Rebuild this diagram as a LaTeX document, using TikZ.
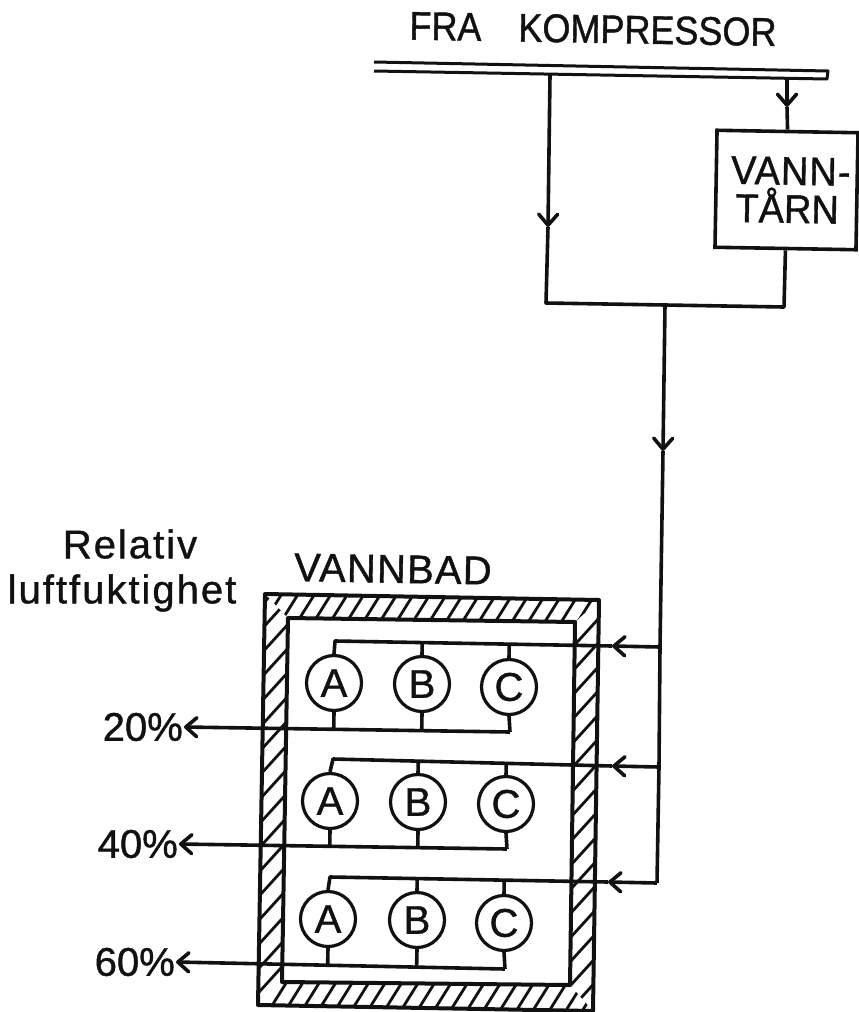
\documentclass[tikz,border=0pt]{standalone}
\usepackage{fontspec}
\setmainfont{Liberation Sans}
\newfontfamily\dinfont[FakeStretch=0.9,FakeBold=1]{Liberation Sans}
\newfontfamily\towerfont[FakeStretch=0.95,FakeBold=1]{Liberation Sans}
\newfontfamily\vannfont[FakeStretch=0.95,FakeBold=1,LetterSpace=2.5]{Liberation Sans}
\newfontfamily\widefont[FakeBold=1,LetterSpace=3]{Liberation Sans}
\newfontfamily\lowerfont[FakeBold=1,LetterSpace=5]{Liberation Sans}
\newfontfamily\plainfont[FakeBold=1]{Liberation Sans}
\usetikzlibrary{arrows.meta,calc}
\definecolor{ScanInk}{HTML}{111111}
\tikzset{
  pipe/.style={ScanInk,line width=3.6pt,line join=round},
  wall/.style={ScanInk,line width=4pt,line join=round},
  flowline/.style={pipe,-{Straight Barb[length=11pt,width=19pt,round]}},
  hatchline/.style={ScanInk,line width=2.8pt},
  meter/.style={circle,draw=ScanInk,line width=3.2pt,minimum size=55pt,inner sep=0pt,text=ScanInk,font=\plainfont\fontsize{40}{40}\selectfont},
  tekst/.style={text=ScanInk,inner sep=1pt,font=\fontsize{40}{40}\selectfont},
  pct/.style={tekst,anchor=east,font=\plainfont\fontsize{40}{40}\selectfont},
  towerbox/.style={draw=ScanInk,line width=3.6pt,rotate=-1,minimum width=141pt,minimum height=117pt,align=left,text=ScanInk,inner sep=0pt,font=\towerfont\fontsize{40}{42}\selectfont},
}
\begin{document}
\begin{tikzpicture}[x=1pt,y=-1pt]
\useasboundingbox (0,0) rectangle (859,1012);
% water bath wall, top and bottom
\begin{scope}
  \clip (265,594) -- (599,600) -- (575,622) -- (288,618) -- cycle
        (258,1005) -- (593,1011) -- (570,985) -- (282,982) -- cycle;
  \foreach \h in {120,136.5,...,740} {
    \draw[hatchline] (\h+150,560) -- (\h-150,1040);
  }
\end{scope}
% water bath wall, sides
\begin{scope}
  \clip (265,594) -- (288,618) -- (282,982) -- (258,1005) -- cycle
        (599,600) -- (575,622) -- (570,985) -- (593,1011) -- cycle;
  \foreach \v in {420,444,...,1180} {
    \draw[hatchline] (830,\v-440) -- (30,\v+440);
  }
\end{scope}
\draw[wall] (288,618) -- (575,622) -- (570,985) -- (282,982) -- cycle;
\draw[wall] (265,594) -- (599,600) -- (593,1011) -- (258,1005) -- cycle;
% labels
\node[tekst,rotate=-1] (title) at (593,29) {\dinfont FRA\hspace{37pt}KOMPRESSOR};
\node[tekst,rotate=-1] (bath) at (393,569) {\widefont VANNBAD};
\node[tekst] (humidA) at (130,544) {\lowerfont Relativ};
\node[tekst] (humidB) at (122,593) {\lowerfont luftfuktighet};
\node[pct] (pctA) at (184,727) {20\%};
\node[pct] (pctB) at (179,844) {40\%};
\node[pct] (pctC) at (176,962) {60\%};
\node[towerbox] (tower) at (786.5,190) {\hspace*{8pt}{\vannfont VANN-}\\[-4pt]\hspace*{13pt}TÅRN};
% gauges
\foreach \n/\x/\y/\t in {a1/334/683/A,b1/422/684/B,c1/509/687/C,
                         a2/330/801/A,b2/418/802/B,c2/506/804/C,
                         a3/328/919/A,b3/417/920/B,c3/504/923/C} {
  \node[meter] (\n) at (\x,\y) {\t};
}
% supply bus
\draw[pipe,line width=3pt] (374,62) -- (828,71) -- (827,79) -- (374,71);
\coordinate (busA) at (550,75);
\coordinate (busB) at (787,78);
\coordinate (tipA) at (548,227);
\coordinate (tipB) at (787,107);
\coordinate (cornerA) at (546,303);
\coordinate (cornerB) at (784,307);
\coordinate (junction) at (665,305);
\coordinate (tipMain) at (663,451);
\coordinate (tap1) at (660,647);
\coordinate (tap2) at (659,767);
\coordinate (tap3) at (657,883);
\draw[flowline] (busA) -- (tipA);
\draw[pipe] (tipA) -- (cornerA) -- (cornerB) -- (tower.south);
\draw[flowline] (busB) -- (tipB);
\draw[pipe] (tipB) -- (tower.north);
\draw[flowline] (junction) -- (tipMain);
\draw[pipe] (tipMain) -- (tap1) -- (tap2) -- (tap3);
% gauge rows
\foreach \r/\tx/\ty/\ax/\ay/\bx/\by/\p in {1/335/641/612/646/510/732/pctA,
                                           2/333/759/612/766/507/849/pctB,
                                           3/330/877/608/882/505/969/pctC} {
  \coordinate (top\r) at (\tx,\ty);
  \coordinate (tip\r) at (\ax,\ay);
  \coordinate (bot\r) at (\bx,\by);
  \draw[flowline] (tap\r) -- (tip\r);
  \draw[pipe] (tip\r) -- (top\r) -- (a\r.north);
  \draw[pipe] (b\r.north) -- ($(top\r)!(b\r.north)!(tip\r)$);
  \draw[pipe] (c\r.north) -- ($(top\r)!(c\r.north)!(tip\r)$);
  \draw[pipe] (c\r.south) -- (bot\r);
  \draw[flowline] (bot\r) -- (\p.east);
  \draw[pipe] (a\r.south) -- ($(bot\r)!(a\r.south)!(\p.east)$);
  \draw[pipe] (b\r.south) -- ($(bot\r)!(b\r.south)!(\p.east)$);
}
\end{tikzpicture}
\end{document}
